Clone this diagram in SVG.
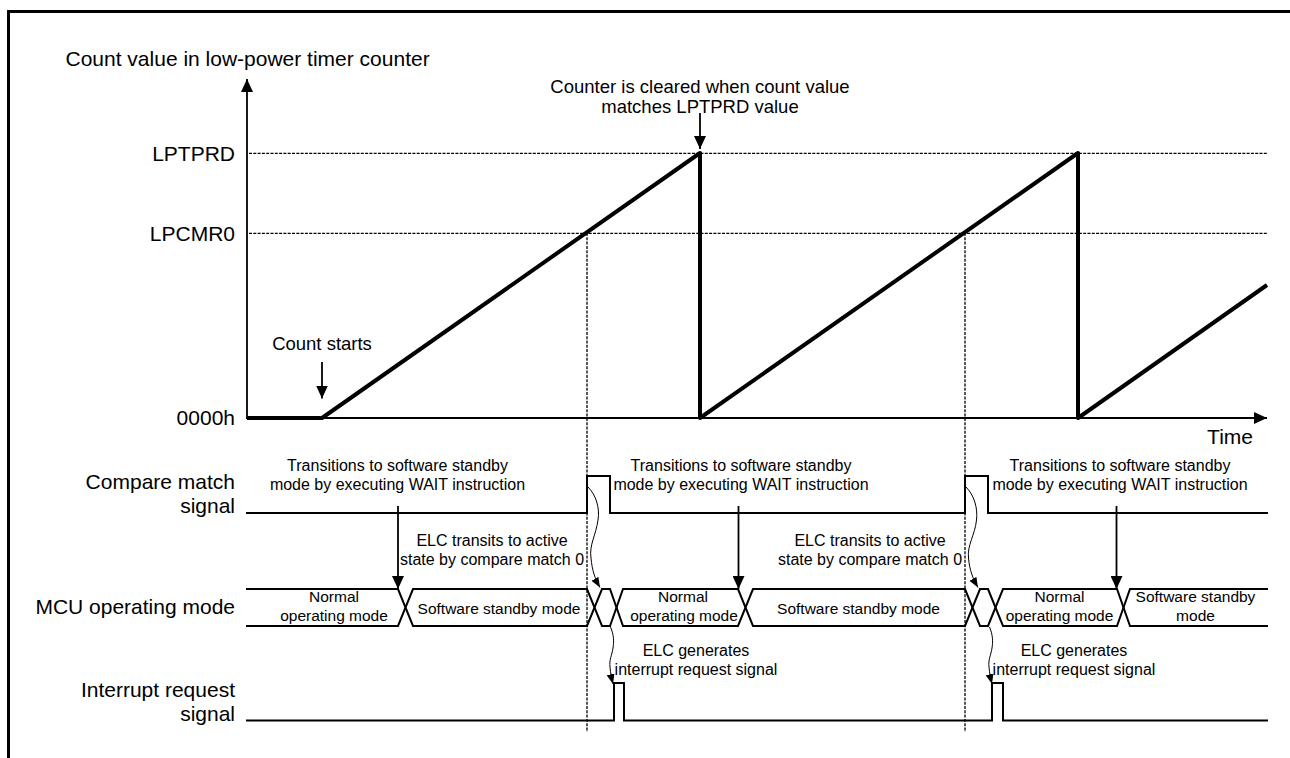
<svg xmlns="http://www.w3.org/2000/svg" width="1290" height="758" viewBox="0 0 1290 758">
<style>
text{font-family:"Liberation Sans",Arial,sans-serif;fill:#000}
.lbl{font-size:21px;text-anchor:end}
.ann{font-size:16px;text-anchor:middle}
.ann18{font-size:18.5px;text-anchor:middle}
.mode{font-size:15.5px;text-anchor:middle}
.sig{fill:none;stroke:#000;stroke-width:2}
.dash{fill:none;stroke:#000;stroke-width:1.3;stroke-dasharray:3 1.3}
.thin{fill:none;stroke:#000;stroke-width:1.8}
.curve{fill:none;stroke:#000;stroke-width:1}
</style>
<defs>
<marker id="ah" viewBox="0 0 13 12" markerWidth="13" markerHeight="12" refX="13" refY="6" orient="auto" markerUnits="userSpaceOnUse">
<path d="M0,0 L13,6 L0,12 z" fill="#000"/>
</marker>
<marker id="ahs" viewBox="0 0 10 8" markerWidth="10" markerHeight="8" refX="10" refY="4" orient="auto" markerUnits="userSpaceOnUse">
<path d="M0,0 L10,4 L0,8 z" fill="#000"/>
</marker>
</defs>
<rect width="1290" height="758" fill="#fff"/>
<path d="M8.5,758 V11.5 H1290" fill="none" stroke="#000" stroke-width="3"/>

<g id="axes">
<line class="thin" x1="247" y1="419" x2="247" y2="79" marker-end="url(#ah)"/>
<line class="thin" x1="246" y1="418" x2="1267" y2="418" marker-end="url(#ah)"/>
<text x="65.5" y="66" style="font-size:21px">Count value in low-power timer counter</text>
<text x="1253" y="443.5" class="lbl">Time</text>
<text x="235" y="160.5" class="lbl">LPTPRD</text>
<text x="235" y="240.5" class="lbl">LPCMR0</text>
<text x="235" y="425" class="lbl">0000h</text>
</g>

<g id="reference-lines">
<line class="dash" x1="249" y1="153.3" x2="1268" y2="153.3"/>
<line class="dash" x1="249" y1="233.3" x2="1268" y2="233.3"/>
<line class="dash" x1="587" y1="233" x2="587" y2="732"/>
<line class="dash" x1="965" y1="233" x2="965" y2="732"/>
</g>

<g id="counter-waveform">
<polyline points="247,418 322,418 700,153 700,418 1078,153 1078,418 1267,285" fill="none" stroke="#000" stroke-width="4" stroke-linejoin="round"/>
</g>

<g id="compare-match-signal">
<text x="235" y="488.5" class="lbl">Compare match</text>
<text x="235" y="513" class="lbl">signal</text>
<polyline class="sig" points="246,513 587,513 587,476 610,476 610,513 965,513 965,476 988,476 988,513 1268,513"/>
</g>

<g id="mcu-operating-mode">
<text x="235" y="614" class="lbl">MCU operating mode</text>
<polyline class="sig" points="246,589 398,589 413,626 587,626 602,589 610,589 623,626 738,626 753,589 965,589 980,626 988,626 1003,589 1117,589 1130,626 1268,626"/>
<polyline class="sig" points="246,626 398,626 413,589 587,589 602,626 610,626 623,589 738,589 753,626 965,626 980,589 988,589 1003,626 1117,626 1130,589 1268,589"/>
<text x="334" y="602" class="mode">Normal</text>
<text x="334" y="620.5" class="mode">operating mode</text>
<text x="499" y="614" class="mode">Software standby mode</text>
<text x="683" y="602" class="mode">Normal</text>
<text x="684" y="620.5" class="mode">operating mode</text>
<text x="858.5" y="614" class="mode">Software standby mode</text>
<text x="1059.5" y="602" class="mode">Normal</text>
<text x="1059.5" y="620.5" class="mode">operating mode</text>
<text x="1195.5" y="602" class="mode">Software standby</text>
<text x="1195.5" y="620.5" class="mode">mode</text>
</g>

<g id="interrupt-request-signal">
<text x="235" y="697" class="lbl">Interrupt request</text>
<text x="235" y="720.5" class="lbl">signal</text>
<polyline class="sig" points="246,720.5 614,720.5 614,683 624,683 624,720.5 992,720.5 992,683 1003,683 1003,720.5 1268,720.5"/>
</g>

<g id="annotations">
<text x="322" y="349.5" class="ann18">Count starts</text>
<text x="700" y="92.5" class="ann18">Counter is cleared when count value</text>
<text x="700" y="113.3" class="ann18">matches LPTPRD value</text>
<text x="397.5" y="470.5" class="ann">Transitions to software standby</text>
<text x="397.5" y="490" class="ann">mode by executing WAIT instruction</text>
<text x="741" y="470.5" class="ann">Transitions to software standby</text>
<text x="741" y="490" class="ann">mode by executing WAIT instruction</text>
<text x="1120" y="470.5" class="ann">Transitions to software standby</text>
<text x="1120" y="490" class="ann">mode by executing WAIT instruction</text>
<text x="492" y="545.7" class="ann">ELC transits to active</text>
<text x="492" y="565" class="ann">state by compare match 0</text>
<text x="870" y="545.7" class="ann">ELC transits to active</text>
<text x="870" y="565" class="ann">state by compare match 0</text>
<text x="696" y="656" class="ann">ELC generates</text>
<text x="696" y="674.5" class="ann">interrupt request signal</text>
<text x="1074" y="656" class="ann">ELC generates</text>
<text x="1074" y="674.5" class="ann">interrupt request signal</text>
</g>

<g id="connectors">
<line class="thin" x1="322" y1="362" x2="322" y2="398.5" marker-end="url(#ah)"/>
<line class="thin" x1="700" y1="113" x2="700" y2="149" marker-end="url(#ah)"/>
<line class="thin" x1="398" y1="506" x2="398" y2="589" marker-end="url(#ah)"/>
<line class="thin" x1="738.5" y1="506" x2="738.5" y2="589" marker-end="url(#ah)"/>
<line class="thin" x1="1116.5" y1="506" x2="1116.5" y2="589" marker-end="url(#ah)"/>
<path class="curve" d="M588,487 C596,495 600,508 598,520 C596,535 589,545 591,558 C592,570 595,579 600,587.5" marker-end="url(#ahs)"/>
<path class="curve" d="M966,487 C974,495 978,508 976.5,520 C975,535 967,545 968.5,558 C969.5,570 973,579 978,587.5" marker-end="url(#ahs)"/>
<path class="curve" d="M610.5,627 C614,635 614,642 613,648 C612,655 609,660 610,667 C610.5,673 611.5,678 613,684" marker-end="url(#ahs)"/>
<path class="curve" d="M989.5,627 C993,635 993,642 992,648 C991,655 988,660 989,667 C989.5,673 990.5,678 992,684" marker-end="url(#ahs)"/>
</g>
</svg>
